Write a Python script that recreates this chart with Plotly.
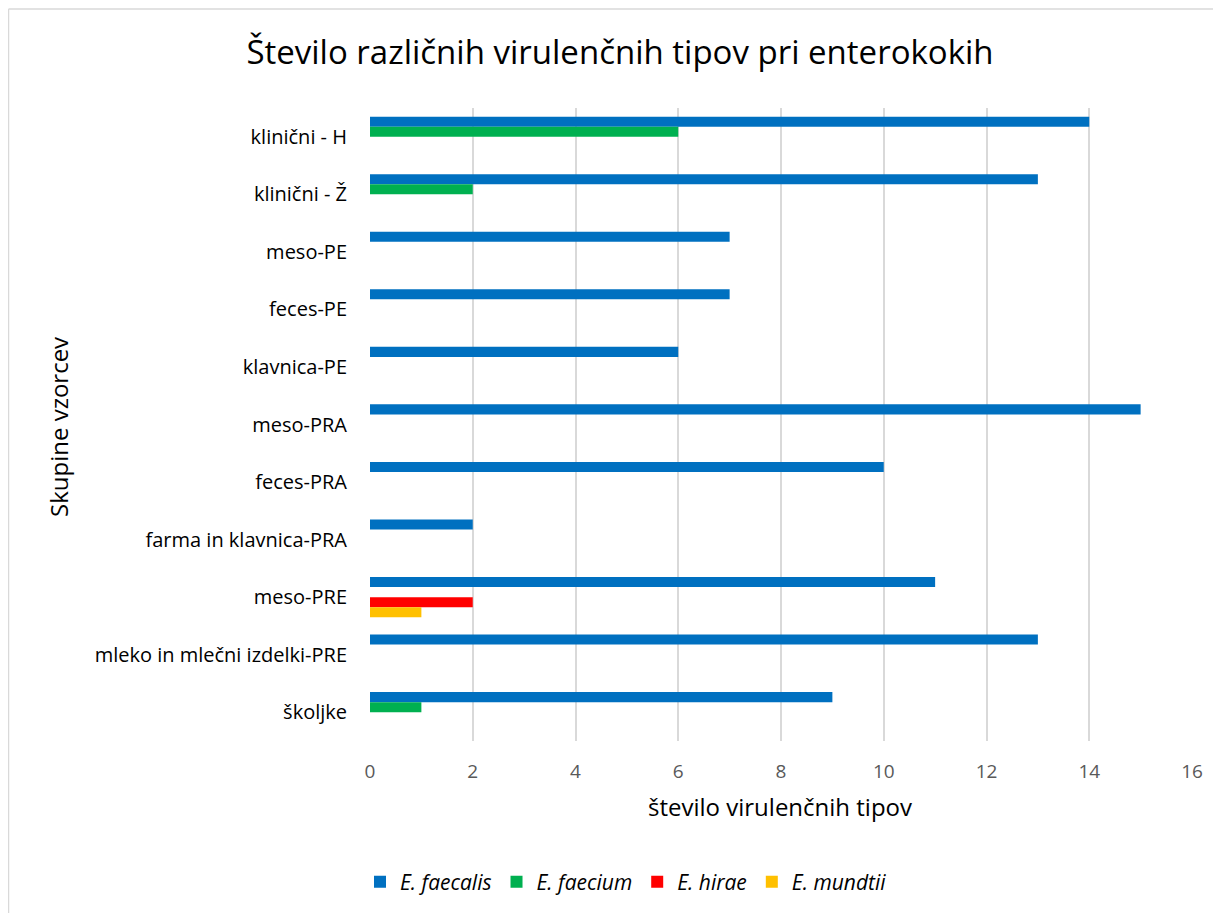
import plotly.graph_objects as go

# sample groups, top to bottom
groups = ["klinični - H", "klinični - Ž", "meso-PE", "feces-PE", "klavnica-PE",
          "meso-PRA", "feces-PRA", "farma in klavnica-PRA", "meso-PRE",
          "mleko in mlečni izdelki-PRE", "školjke"]

faecalis = [14, 13, 7, 7, 6, 15, 10, 2, 11, 13, 9]
faecium = [6, 2, 0, 0, 0, 0, 0, 0, 0, 0, 1]
hirae = [0, 0, 0, 0, 0, 0, 0, 0, 2, 0, 0]
mundtii = [0, 0, 0, 0, 0, 0, 0, 0, 1, 0, 0]

series = [("E. faecalis", faecalis, "#0070C0"),
          ("E. faecium", faecium, "#00B050"),
          ("E. hirae", hirae, "#FF0000"),
          ("E. mundtii", mundtii, "#FFC000")]

FONT = "'Open Sans', sans-serif"
W, H = 1213, 905          # page body has an 8px margin
L, R, T, B = 362, 29, 100, 172
PW, PH = W - L - R, H - T - B

fig = go.Figure()
for name, vals, col in series:
    fig.add_trace(go.Bar(y=groups, x=vals, orientation="h", name=f"<i>{name}</i>",
                         marker=dict(color=col, line=dict(width=0)),
                         hoverinfo="x+name"))

fig.update_layout(
    width=W, height=H,
    barmode="group", bargap=0.3, bargroupgap=0,
    plot_bgcolor="white", paper_bgcolor="white",
    margin=dict(l=L, r=R, t=T, b=B, autoexpand=False),
    font=dict(family=FONT, color="#404040", size=19),
    title=dict(text="Število različnih virulenčnih tipov pri enterokokih",
               x=612 / W, xanchor="center", y=1 - 44 / H, yanchor="middle",
               font=dict(size=33, color="#000000", family=FONT)),
    xaxis=dict(range=[0, 16], dtick=2, showgrid=True, gridcolor="#D9D9D9", gridwidth=2,
               zeroline=False, showline=False, ticks="", ticklabelstandoff=17,
               tickfont=dict(size=19, color="#595959")),
    yaxis=dict(autorange="reversed", showgrid=False, showline=False, ticks="",
               ticklabelstandoff=22, tickfont=dict(size=20, color="#000000")),
    legend=dict(orientation="h", xref="container", yref="container",
                x=618 / W, xanchor="center", y=1 - 874 / H, yanchor="middle",
                font=dict(size=21, color="#000000"), itemwidth=30,
                traceorder="normal"),
    annotations=[
        dict(text="Skupine vzorcev", xref="paper", yref="paper",
             x=(50 - L) / PW, y=(T + PH - 419) / PH, textangle=-90, showarrow=False,
             xanchor="center", yanchor="middle",
             font=dict(size=24, color="#000000")),
        dict(text="število virulenčnih tipov", xref="paper", yref="paper",
             x=(772 - L) / PW, y=-(798 - T - PH) / PH, showarrow=False,
             xanchor="center", yanchor="middle",
             font=dict(size=24, color="#000000")),
    ],
    shapes=[
        dict(type="line", xref="paper", yref="paper",
             x0=(0.5 - L) / PW, x1=(0.5 - L) / PW, y0=1 + (T - 1) / PH, y1=-(B + 10) / PH,
             line=dict(color="#D9D9D9", width=1.5)),
        dict(type="line", xref="paper", yref="paper",
             x0=(0.5 - L) / PW, x1=1 + (R + 10) / PW, y0=1 + (T - 1) / PH, y1=1 + (T - 1) / PH,
             line=dict(color="#D9D9D9", width=1.5)),
    ],
)

fig.write_html("out.html")
